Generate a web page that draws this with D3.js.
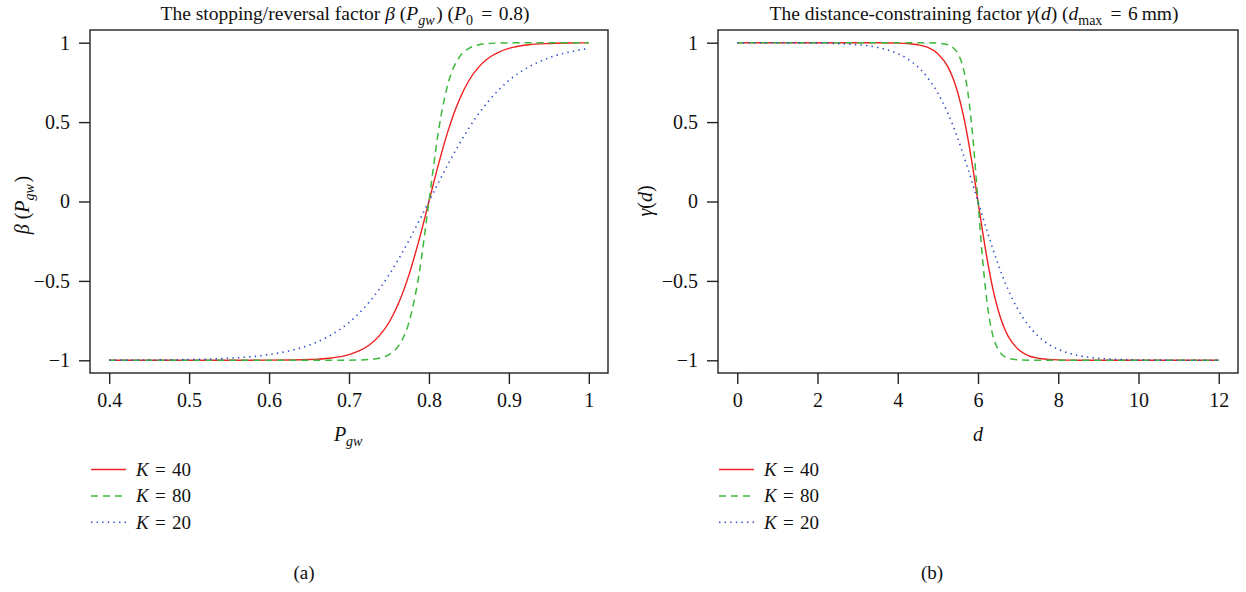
<!DOCTYPE html>
<html>
<head>
<meta charset="utf-8">
<script src="https://cdn.jsdelivr.net/npm/d3@7"></script>
<style>
  body { margin: 0; background: #fff; }
  svg text { font-family: "Liberation Serif", "DejaVu Serif", serif; fill: #111; }
</style>
</head>
<body>
<svg id="chart" width="1246" height="592"></svg>
<script>
// ---- data ----
// panel (a): beta(Pgw), P0 = 0.8
const pgw = [0.4, 0.45, 0.5, 0.55, 0.6, 0.625, 0.65, 0.675, 0.7, 0.7125, 0.725, 0.7375, 0.75, 0.7625, 0.775, 0.7875, 0.8,
             0.8125, 0.825, 0.8375, 0.85, 0.8625, 0.875, 0.8875, 0.9, 0.925, 0.95, 0.975, 1.0];
const betaK40 = [-1, -1, -1, -1, -0.999, -0.998, -0.995, -0.987, -0.964, -0.941, -0.905, -0.848, -0.762, -0.635, -0.462, -0.245, 0,
                 0.245, 0.462, 0.635, 0.762, 0.848, 0.905, 0.941, 0.964, 0.987, 0.995, 0.998, 0.999];
const betaK80 = [-1, -1, -1, -1, -1, -1, -1, -1, -0.999, -0.998, -0.995, -0.987, -0.964, -0.905, -0.762, -0.462, 0,
                 0.462, 0.762, 0.905, 0.964, 0.987, 0.995, 0.998, 0.999, 1, 1, 1, 1];
const betaK20 = [-0.999, -0.998, -0.995, -0.987, -0.964, -0.941, -0.905, -0.848, -0.762, -0.704, -0.635, -0.555, -0.462, -0.358, -0.245, -0.124, 0,
                 0.124, 0.245, 0.358, 0.462, 0.555, 0.635, 0.704, 0.762, 0.848, 0.905, 0.941, 0.964];
const pgwTicks = [0.4, 0.5, 0.6, 0.7, 0.8, 0.9, 1];

// panel (b): gamma(d), dmax = 6 mm
const dist = [0, 1, 2, 3, 3.5, 4, 4.25, 4.5, 4.75, 5, 5.25, 5.375, 5.5, 5.625, 5.75, 5.875, 6,
              6.125, 6.25, 6.375, 6.5, 6.625, 6.75, 7, 7.25, 7.5, 7.75, 8, 8.5, 9, 10, 11, 12];
const gammaK40 = [1, 1, 1, 1, 0.9995, 0.9975, 0.994, 0.987, 0.970, 0.931, 0.848, 0.778, 0.682, 0.555, 0.394, 0.205, 0,
                  -0.205, -0.394, -0.555, -0.682, -0.778, -0.848, -0.931, -0.970, -0.987, -0.994, -0.9975, -0.9995, -1, -1, -1, -1];
const gammaK80 = [1, 1, 1, 1, 1, 1, 1, 1, 0.9995, 0.9975, 0.987, 0.970, 0.931, 0.848, 0.682, 0.394, 0,
                  -0.394, -0.682, -0.848, -0.931, -0.970, -0.987, -0.9975, -0.9995, -1, -1, -1, -1, -1, -1, -1, -1];
const gammaK20 = [1, 0.9995, 0.9975, 0.987, 0.970, 0.931, 0.898, 0.848, 0.778, 0.682, 0.555, 0.479, 0.394, 0.303, 0.205, 0.104, 0,
                  -0.104, -0.205, -0.303, -0.394, -0.479, -0.555, -0.682, -0.778, -0.848, -0.898, -0.931, -0.970, -0.987, -0.9975, -0.9995, -1];
const distTicks = [0, 2, 4, 6, 8, 10, 12];

const yTicks = [-1, -0.5, 0, 0.5, 1];
const legendLabels = ["40", "80", "20"];

// line styles: K=40 solid red, K=80 dashed green, K=20 dotted blue
const styles = [
  { color: "#f02020", dash: null, width: 1.4 },
  { color: "#3cb83c", dash: "7,5", width: 1.5 },
  { color: "#2f4fc8", dash: "1.4,4.2", width: 1.6 }
];

const EQ = "\u2004=\u2004"; // a bit wider than normal spaces round "="
const svg = d3.select("#chart");
const fmt = v => (v < 0 ? "\u2212" : "") + String(Math.abs(v));

function drawPanel(p) {
  const g = svg.append("g");
  const top = 30, bottom = 373;
  // R style: data range padded by 4% each side
  const padX = (p.xDomain[1] - p.xDomain[0]) * 0.04;
  const x = d3.scaleLinear().domain([p.xDomain[0] - padX, p.xDomain[1] + padX]).range([p.left, p.right]);
  const y = d3.scaleLinear().domain([-1.08, 1.08]).range([bottom, top]);

  const line = d3.line().x(d => x(d[0])).y(d => y(d[1])).curve(d3.curveMonotoneX);
  p.series.forEach((s, i) => {
    const st = styles[i];
    g.append("path")
      .datum(p.xs.map((v, j) => [v, s[j]]))
      .attr("d", line)
      .attr("fill", "none")
      .attr("stroke", st.color)
      .attr("stroke-width", st.width)
      .attr("stroke-dasharray", st.dash);
  });

  // box
  g.append("rect")
    .attr("x", p.left).attr("y", top)
    .attr("width", p.right - p.left).attr("height", bottom - top)
    .attr("fill", "none").attr("stroke", "#222").attr("stroke-width", 1.4);

  // x axis
  const xa = g.append("g").attr("transform", `translate(0,${bottom})`)
    .call(d3.axisBottom(x).tickValues(p.xTicks).tickSize(11).tickPadding(9).tickFormat(fmt));
  xa.select(".domain").remove();
  xa.selectAll("line").attr("stroke", "#222").attr("stroke-width", 1.4);
  xa.selectAll("text").style("font-size", "20px").attr("fill", "#111");

  // y axis
  const ya = g.append("g").attr("transform", `translate(${p.left},0)`)
    .call(d3.axisLeft(y).tickValues(yTicks).tickSize(11).tickPadding(9).tickFormat(fmt));
  ya.select(".domain").remove();
  ya.selectAll("line").attr("stroke", "#222").attr("stroke-width", 1.4);
  ya.selectAll("text").style("font-size", "20px").attr("fill", "#111");

  const cx = (p.left + p.right) / 2;

  // title
  const t = g.append("text").attr("x", cx - 4).attr("y", 20).attr("text-anchor", "middle").style("font-size", "19.5px");
  p.title(t);

  // x label
  const xl = g.append("text").attr("x", cx).attr("y", 441).attr("text-anchor", "middle").style("font-size", "20px");
  p.xLabel(xl);

  // y label
  const yl = g.append("text")
    .attr("transform", `translate(${p.yLabelX},${p.yLabelY}) rotate(-90)`)
    .attr("text-anchor", "middle").style("font-size", "20px");
  p.yLabel(yl);

  // legend
  const lg = g.append("g").attr("transform", `translate(${p.left + 1},469.5)`);
  legendLabels.forEach((lab, i) => {
    const st = styles[i];
    const row = lg.append("g").attr("transform", `translate(0,${i * 26.4})`);
    row.append("line").attr("x1", 0).attr("x2", 35).attr("y1", 0).attr("y2", 0)
      .attr("stroke", st.color).attr("stroke-width", st.width).attr("stroke-dasharray", st.dash);
    const tx = row.append("text").attr("x", 45).attr("y", 6.5).style("font-size", "19px");
    tx.append("tspan").attr("font-style", "italic").text("K");
    tx.append("tspan").text(EQ + lab);
  });

  // caption
  g.append("text").attr("x", p.captionX).attr("y", 579).attr("text-anchor", "middle")
    .style("font-size", "19px").text(p.caption);
}

function sub(textSel, s, italic) {
  textSel.append("tspan").attr("dy", 5).style("font-size", "14px")
    .attr("font-style", italic ? "italic" : null).text(s);
  textSel.append("tspan").attr("dy", -5).text("\u200a");
}

drawPanel({
  left: 90, right: 608,
  xDomain: [0.4, 1], xTicks: pgwTicks,
  xs: pgw, series: [betaK40, betaK80, betaK20],
  yLabelX: 29, yLabelY: 205, captionX: 304, caption: "(a)",
  title: t => {
    t.append("tspan").text("The stopping/reversal factor ");
    t.append("tspan").attr("font-style", "italic").text("\u03b2");
    t.append("tspan").text(" (");
    t.append("tspan").attr("font-style", "italic").text("P");
    sub(t, "gw", true);
    t.append("tspan").text(") (");
    t.append("tspan").attr("font-style", "italic").text("P");
    sub(t, "0", false);
    t.append("tspan").text(EQ + "0.8)");
  },
  xLabel: t => {
    t.append("tspan").attr("font-style", "italic").text("P");
    sub(t, "gw", true);
  },
  yLabel: t => {
    t.append("tspan").attr("font-style", "italic").text("\u03b2");
    t.append("tspan").text(" (");
    t.append("tspan").attr("font-style", "italic").text("P");
    sub(t, "gw", true);
    t.append("tspan").text(")");
  }
});

drawPanel({
  left: 718, right: 1238,
  xDomain: [0, 12], xTicks: distTicks,
  xs: dist, series: [gammaK40, gammaK80, gammaK20],
  yLabelX: 652, yLabelY: 201, captionX: 932, caption: "(b)",
  title: t => {
    t.append("tspan").text("The distance-constraining factor ");
    t.append("tspan").attr("font-style", "italic").text("\u03b3");
    t.append("tspan").text("(");
    t.append("tspan").attr("font-style", "italic").text("d");
    t.append("tspan").text(") (");
    t.append("tspan").attr("font-style", "italic").text("d");
    sub(t, "max", false);
    t.append("tspan").text(EQ + "6\u2009mm)");
  },
  xLabel: t => {
    t.append("tspan").attr("font-style", "italic").text("d");
  },
  yLabel: t => {
    t.append("tspan").attr("font-style", "italic").text("\u03b3");
    t.append("tspan").text("(");
    t.append("tspan").attr("font-style", "italic").text("d");
    t.append("tspan").text(")");
  }
});
</script>
</body>
</html>
